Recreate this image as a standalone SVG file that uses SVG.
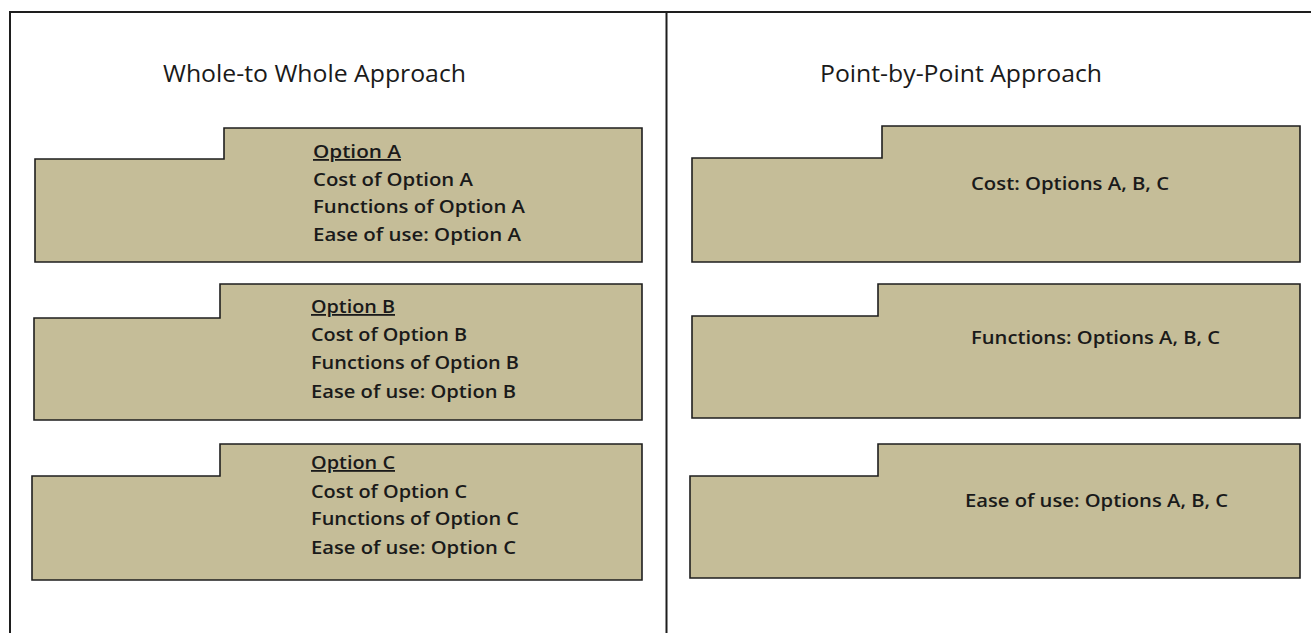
<svg xmlns="http://www.w3.org/2000/svg" width="1311" height="633" viewBox="0 0 1311 633">
<style>
.shape{fill:#c5bd98;stroke:#1e1e1e;stroke-width:1.6}
.frame{fill:none;stroke:#1e1e1e;stroke-width:2}
.title{font-family:"Open Sans","Liberation Sans",sans-serif;font-size:24px;fill:#1a1a1a}
.t{font-family:"Open Sans","Liberation Sans",sans-serif;font-size:18px;font-weight:600;fill:#1a1a1a}
.u{text-decoration:underline}
</style>
<rect x="0" y="0" width="1311" height="633" fill="#ffffff"/>
<g id="frame">
<path class="frame" d="M10,633 V12 H1311"/>
<path class="frame" d="M666.5,12 V633" stroke-width="2.5"/>
</g>
<g id="title-left"><text class="title" x="163" y="82" textLength="303" lengthAdjust="spacingAndGlyphs">Whole-to Whole Approach</text></g>
<g id="title-right"><text class="title" x="820" y="82" textLength="282" lengthAdjust="spacingAndGlyphs">Point-by-Point Approach</text></g>
<g id="optionA">
<path class="shape" d="M35,159 H224 V128 H642 V262 H35 Z"/>
<text class="t u" x="313" y="158" textLength="88" lengthAdjust="spacingAndGlyphs">Option A</text>
<text class="t" x="313" y="186" textLength="160" lengthAdjust="spacingAndGlyphs">Cost of Option A</text>
<text class="t" x="313" y="213" textLength="212" lengthAdjust="spacingAndGlyphs">Functions of Option A</text>
<text class="t" x="313" y="241" textLength="208" lengthAdjust="spacingAndGlyphs">Ease of use: Option A</text>
</g>
<g id="optionB">
<path class="shape" d="M34,318 H220 V284 H642 V420 H34 Z"/>
<text class="t u" x="311" y="313" textLength="84" lengthAdjust="spacingAndGlyphs">Option B</text>
<text class="t" x="311" y="341" textLength="156" lengthAdjust="spacingAndGlyphs">Cost of Option B</text>
<text class="t" x="311" y="369" textLength="208" lengthAdjust="spacingAndGlyphs">Functions of Option B</text>
<text class="t" x="311" y="398" textLength="205" lengthAdjust="spacingAndGlyphs">Ease of use: Option B</text>
</g>
<g id="optionC">
<path class="shape" d="M32,476 H220 V444 H642 V580 H32 Z"/>
<text class="t u" x="311" y="469" textLength="84" lengthAdjust="spacingAndGlyphs">Option C</text>
<text class="t" x="311" y="498" textLength="156" lengthAdjust="spacingAndGlyphs">Cost of Option C</text>
<text class="t" x="311" y="525" textLength="208" lengthAdjust="spacingAndGlyphs">Functions of Option C</text>
<text class="t" x="311" y="554" textLength="205" lengthAdjust="spacingAndGlyphs">Ease of use: Option C</text>
</g>
<g id="cost">
<path class="shape" d="M692,158 H882 V126 H1300 V262 H692 Z"/>
<text class="t" x="971" y="190" textLength="198" lengthAdjust="spacingAndGlyphs">Cost: Options A, B, C</text>
</g>
<g id="functions">
<path class="shape" d="M692,316 H878 V284 H1300 V418 H692 Z"/>
<text class="t" x="971" y="344" textLength="249" lengthAdjust="spacingAndGlyphs">Functions: Options A, B, C</text>
</g>
<g id="ease">
<path class="shape" d="M690,476 H878 V444 H1300 V578 H690 Z"/>
<text class="t" x="965" y="507" textLength="263" lengthAdjust="spacingAndGlyphs">Ease of use: Options A, B, C</text>
</g>
<g id="connectors"></g>
</svg>
